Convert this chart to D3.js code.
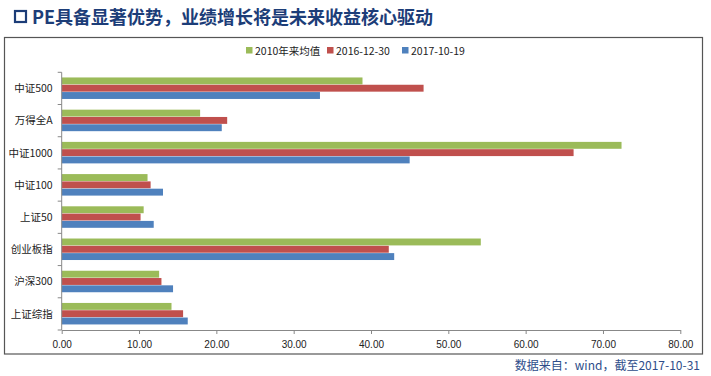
<!DOCTYPE html>
<html>
<head>
<meta charset="utf-8">
<script src="https://cdn.jsdelivr.net/npm/d3@7"></script>
<style>
  body { margin: 0; background: #fff; }
  svg { display: block; font-family: "Noto Sans CJK SC", "Noto Sans", sans-serif; }
</style>
</head>
<body>
<svg id="chart"></svg>
<script>
// categories top to bottom
const categories = ['中证500', '万得全A', '中证1000', '中证100', '上证50', '创业板指', '沪深300', '上证综指'];
const seriesNames = ['2010年来均值', '2016-12-30', '2017-10-19'];
const avg2010 = [38.9, 17.9, 72.4, 11.1, 10.6, 54.2, 12.6, 14.2];
const pe20161230 = [46.8, 21.4, 66.2, 11.5, 10.2, 42.3, 12.9, 15.7];
const pe20171019 = [33.4, 20.7, 45.0, 13.1, 11.9, 43.0, 14.4, 16.3];
const xTicks = [0, 10, 20, 30, 40, 50, 60, 70, 80];
const colors = ['#9bbb59', '#c0504d', '#4f81bd'];

const width = 711, height = 376;
const margin = {top: 72.3, right: 30.7, bottom: 46, left: 61.7};

const svg = d3.select('#chart').attr('width', width).attr('height', height);

const data = categories.map((c, i) => ({
    cat: c,
    values: [avg2010[i], pe20161230[i], pe20171019[i]]
}));

// title
const title = svg.append('g').attr('transform', 'translate(15,24)');
title.append('rect')
    .attr('x', 0).attr('y', -13).attr('width', 11).attr('height', 11)
    .attr('fill', 'none').attr('stroke', '#1c3d78').attr('stroke-width', 2.2);
title.append('text')
    .attr('x', 17).attr('y', 0)
    .attr('fill', '#1c3d78')
    .style('font-size', '18px').style('font-weight', 'bold')
    .text('PE具备显著优势，业绩增长将是未来收益核心驱动');

// frame
svg.append('rect')
    .attr('x', 4.5).attr('y', 37.5).attr('width', 698).attr('height', 316.5)
    .attr('fill', 'none').attr('stroke', '#555').attr('stroke-width', 1.2);

const x = d3.scaleLinear().domain([0, 80]).range([margin.left, width - margin.right]);
const y = d3.scaleBand().domain(categories)
    .range([margin.top, 330]).paddingInner(0.32).paddingOuter(0.16);
const ySub = d3.scaleBand().domain(d3.range(3)).range([0, y.bandwidth()]);

// bars
const groups = svg.append('g').selectAll('g')
    .data(data).join('g')
    .attr('transform', d => `translate(0,${y(d.cat)})`);

groups.selectAll('rect')
    .data(d => d.values)
    .join('rect')
    .attr('x', x(0))
    .attr('y', (d, i) => ySub(i))
    .attr('height', ySub.bandwidth() - 0.4)
    .attr('width', d => x(d) - x(0))
    .attr('fill', (d, i) => colors[i]);

// x axis
const xAxis = svg.append('g')
    .attr('transform', 'translate(0,330)')
    .call(d3.axisBottom(x).tickValues(xTicks).tickFormat(d3.format('.2f')).tickSize(4).tickSizeOuter(0));
xAxis.select('.domain').attr('stroke', '#888');
xAxis.selectAll('.tick line').attr('stroke', '#888');
xAxis.selectAll('text').attr('fill', '#222').style('font-size', '10px').attr('dy', '1.1em');

// y axis with ticks between categories
const yAxisG = svg.append('g').attr('transform', `translate(${margin.left},0)`);
yAxisG.append('line')
    .attr('x1', 0).attr('x2', 0).attr('y1', margin.top).attr('y2', 330)
    .attr('stroke', '#888');
const step = y.step();
yAxisG.selectAll('.ytick')
    .data(d3.range(categories.length + 1))
    .join('line')
    .attr('x1', -4).attr('x2', 0)
    .attr('y1', i => margin.top + i * step)
    .attr('y2', i => margin.top + i * step)
    .attr('stroke', '#888');
yAxisG.selectAll('text')
    .data(categories)
    .join('text')
    .attr('x', -9)
    .attr('y', d => y(d) + y.bandwidth() / 2)
    .attr('dy', '0.35em')
    .attr('text-anchor', 'end')
    .attr('fill', '#222')
    .style('font-size', '10.5px')
    .text(d => d);

// legend
const legendX = [246, 327, 402];
const legend = svg.append('g').selectAll('g')
    .data(seriesNames).join('g')
    .attr('transform', (d, i) => `translate(${legendX[i]},51)`);
legend.append('rect')
    .attr('x', 0).attr('y', -4).attr('width', 6.5).attr('height', 6.5)
    .attr('fill', (d, i) => colors[i]);
legend.append('text')
    .attr('x', 9).attr('y', 0).attr('dy', '0.35em')
    .attr('fill', '#222')
    .style('font-size', '10.5px')
    .text(d => d);

// source
svg.append('text')
    .attr('x', 700).attr('y', 370)
    .attr('text-anchor', 'end')
    .attr('fill', '#2e4d8a')
    .style('font-size', '12px')
    .text('数据来自：wind，截至2017-10-31');
</script>
</body>
</html>
